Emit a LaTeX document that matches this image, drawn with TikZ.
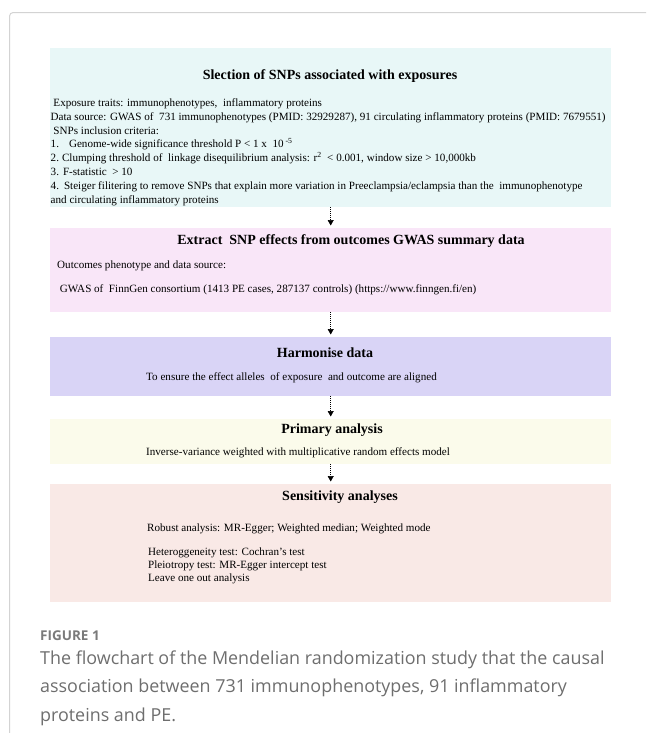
\documentclass[tikz,border=0pt]{standalone}
\usepackage{fontspec}
\setmainfont{Liberation Serif}
\newfontfamily\capfont{Open Sans}
\usetikzlibrary{arrows.meta}
\definecolor{framegray}{HTML}{D3D3D3}
\definecolor{boxcyan}{HTML}{E8F7F7}
\definecolor{boxpink}{HTML}{F9E6F8}
\definecolor{boxlav}{HTML}{D9D4F6}
\definecolor{boxyel}{HTML}{FBFBEB}
\definecolor{boxpeach}{HTML}{F9E9E6}
\definecolor{capgray}{HTML}{6E6E6E}
\definecolor{labgray}{HTML}{7A7A7A}
\tikzset{
  panel/.style={draw=none, inner sep=0pt, minimum width=561pt, anchor=north west},
  bodytxt/.style={anchor=base west, inner sep=0pt, font=\fontsize{11.1}{13}\selectfont},
  titletxt/.style={anchor=base, inner sep=0pt, font=\fontsize{14}{16}\selectfont\bfseries},
  flowarrow/.style={line width=0.6pt, dash pattern=on 1pt off 1pt,
    -{Triangle[length=5.5pt,width=6pt]}, shorten >=2.5pt},
  capline/.style={anchor=base west, inner sep=0pt, text=capgray,
    font=\capfont\fontsize{17.9}{21}\selectfont},
  caplabel/.style={anchor=base west, inner sep=0pt, text=labgray,
    font=\capfont\bfseries\fontsize{13.5}{16}\selectfont},
}
\begin{document}
\begin{tikzpicture}[x=1pt,y=-1pt]
\useasboundingbox (0,0) rectangle (646,733);
% page frame
\draw[framegray, line width=1pt, rounded corners=3pt] (646,12.7) -- (9.7,12.7) -- (9.7,733);

% boxes
\node[panel, fill=boxcyan,  minimum height=159pt] (b1) at (50,48) {};
\node[panel, fill=boxpink,  minimum height=84pt]  (b2) at (50,228) {};
\node[panel, fill=boxlav,   minimum height=59pt]  (b3) at (50,337) {};
\node[panel, fill=boxyel,   minimum height=45pt]  (b4) at (50,419) {};
\node[panel, fill=boxpeach, minimum height=118pt] (b5) at (50,484) {};

% box 1
\node[titletxt] (t1) at (330,79.5) {Slection of SNPs associated with exposures};
\node[bodytxt] (l11) at (50.5,106.5) {\ Exposure traits: immunophenotypes,\ \ inflammatory proteins};
\node[bodytxt] (l12) at (50.5,120.3) {Data source: GWAS of\ \ 731 immunophenotypes (PMID: 32929287), 91 circulating inflammatory proteins (PMID: 7679551)};
\node[bodytxt] (l13) at (50.5,134.1) {\ SNPs inclusion criteria:};
\node[bodytxt] (l14) at (50.5,147.9) {1.\hspace{10pt}Genome-wide significance threshold P \textless\ 1 x\ \ 10\,\textsuperscript{-5}};
\node[bodytxt] (l15) at (50.5,161.7) {2.\hspace{3pt}Clumping threshold of\ \ linkage disequilibrium analysis: r\textsuperscript{2}\ \ \textless\ 0.001, window size \textgreater\ 10,000kb};
\node[bodytxt] (l16) at (50.5,175.5) {3.\hspace{4pt}F-statistic\ \ \textgreater\ 10};
\node[bodytxt] (l17) at (50.5,189.3) {4.\hspace{5pt}Steiger filitering to remove SNPs that explain more variation in Preeclampsia/eclampsia than the\ \ immunophenotype};
\node[bodytxt] (l18) at (50.5,203.1) {and circulating inflammatory proteins};

% box 2
\node[titletxt] (t2) at (351,244.5) {Extract\ \ SNP effects from outcomes GWAS summary data};
\node[bodytxt] (l21) at (57,268.5) {Outcomes phenotype and data source:};
\node[bodytxt] (l22) at (57,292.5) {\ GWAS of\ \ FinnGen consortium (1413 PE cases, 287137 controls) (https://www.finngen.fi/en)};

% box 3
\node[titletxt] (t3) at (325,357.5) {Harmonise data};
\node[bodytxt] (l31) at (146,380.5) {To ensure the effect alleles\ \ of exposure\ \ and outcome are aligned};

% box 4
\node[titletxt] (t4) at (332,433.5) {Primary analysis};
\node[bodytxt] (l41) at (146,455.5) {Inverse-variance weighted with multiplicative random effects model};

% box 5
\node[titletxt] (t5) at (340,500.5) {Sensitivity analyses};
\node[bodytxt] (l51) at (147,531.5) {Robust analysis: MR-Egger; Weighted median; Weighted mode};
\node[bodytxt] (l52) at (148,555.5) {Heteroggeneity test: Cochran’s test};
\node[bodytxt] (l53) at (148,568.5) {Pleiotropy test: MR-Egger intercept test};
\node[bodytxt] (l54) at (148,581.5) {Leave one out analysis};

% arrows
\draw[flowarrow] (b1.south) -- (b2.north);
\draw[flowarrow] (b2.south) -- (b3.north);
\draw[flowarrow] (b3.south) -- (b4.north);
\draw[flowarrow] (b4.south) -- (b5.north);

% caption
\node[caplabel] (fig) at (40,640) {FIGURE 1};
\node[capline] (c1) at (40,664) {The flowchart of the Mendelian randomization study that the causal};
\node[capline] (c2) at (40,692.5) {association between 731 immunophenotypes, 91 inflammatory};
\node[capline] (c3) at (40,721) {proteins and PE.};
\end{tikzpicture}
\end{document}
